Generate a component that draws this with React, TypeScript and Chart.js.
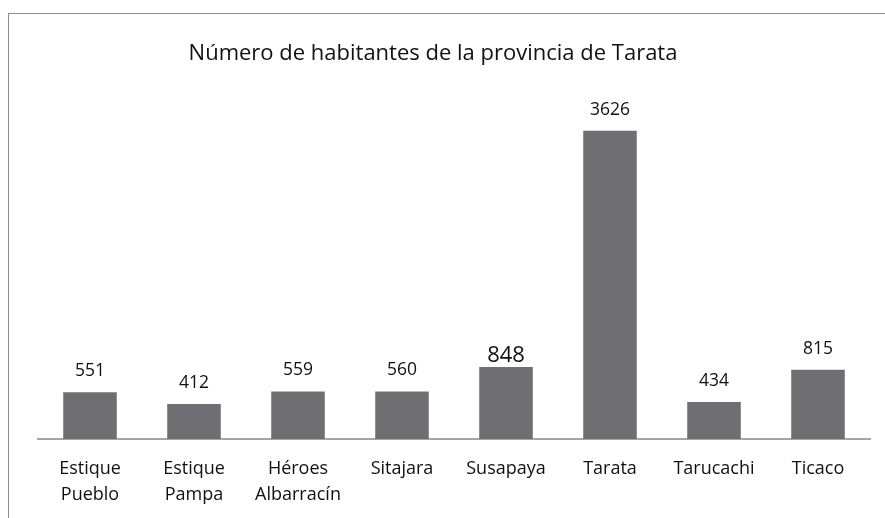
import React, { useEffect, useRef } from "react";
import { Chart, registerables } from "chart.js";

Chart.register(...registerables);

const titleText = "Número de habitantes de la provincia de Tarata";
const categories: (string | string[])[] = [
  ["Estique", "Pueblo"],
  ["Estique", "Pampa"],
  ["Héroes", "Albarracín"],
  "Sitajara",
  "Susapaya",
  "Tarata",
  "Tarucachi",
  "Ticaco",
];
const habitantes = [551, 412, 559, 560, 848, 3626, 434, 815];
const emphasizedIndex = 4;

const FONT = "'Open Sans', 'Noto Sans', sans-serif";
const BAR_COLOR = "#6f6e73";
const TEXT_COLOR = "#111111";

const framePlugin = {
  id: "frame",
  beforeDraw(chart: any) {
    const ctx = chart.ctx;
    ctx.save();
    ctx.fillStyle = "#ffffff";
    ctx.fillRect(0, 0, chart.width, chart.height);
    ctx.fillStyle = "#8c8c8c";
    ctx.fillRect(8, 13, chart.width - 8, 1);
    ctx.fillRect(8, 13, 1, chart.height - 13);
    ctx.fillStyle = TEXT_COLOR;
    ctx.font = `22px ${FONT}`;
    ctx.textAlign = "center";
    ctx.textBaseline = "alphabetic";
    ctx.fillText(titleText, 433, 60);
    ctx.restore();
  },
};

const valueLabelPlugin = {
  id: "valueLabels",
  afterDatasetsDraw(chart: any) {
    const ctx = chart.ctx;
    const meta = chart.getDatasetMeta(0);
    const data = chart.data.datasets[0].data;
    ctx.save();
    ctx.fillStyle = TEXT_COLOR;
    ctx.textAlign = "center";
    ctx.textBaseline = "alphabetic";
    meta.data.forEach((bar: any, i: number) => {
      const big = i === emphasizedIndex;
      ctx.font = `${big ? 22 : 17.5}px ${FONT}`;
      ctx.fillText(String(data[i]), bar.x, bar.y - (big ? 5 : 16));
    });
    ctx.restore();
  },
};

export default function App() {
  const ref = useRef<HTMLCanvasElement>(null);
  useEffect(() => {
    if (!ref.current) return;
    const chart = new Chart(ref.current, {
      type: "bar",
      data: {
        labels: categories,
        datasets: [
          {
            data: habitantes,
            backgroundColor: BAR_COLOR,
            borderWidth: 0,
            categoryPercentage: 1,
            barPercentage: 0.515,
          },
        ],
      },
      options: {
        animation: false,
        responsive: false,
        layout: { padding: { left: 38, right: 15, top: 99, bottom: 0 } },
        plugins: {
          legend: { display: false },
          title: { display: false },
          tooltip: { enabled: false },
        },
        scales: {
          x: {
            grid: { display: false, drawTicks: false },
            border: { display: true, color: "#a5a5a5", width: 2 },
            ticks: {
              color: TEXT_COLOR,
              font: { family: FONT, size: 18, lineHeight: 26 / 18 },
              padding: 17,
              maxRotation: 0,
              autoSkip: false,
            },
            afterFit: (scale: any) => {
              scale.height = 79;
            },
          },
          y: {
            display: false,
            min: 0,
            max: 4000,
          },
        },
      },
      plugins: [framePlugin, valueLabelPlugin],
    });
    return () => chart.destroy();
  }, []);
  return (
    <div style={{ position: "absolute", left: 0, top: 0, width: 885, height: 518 }}>
      <canvas ref={ref} width={885} height={518} />
    </div>
  );
}
